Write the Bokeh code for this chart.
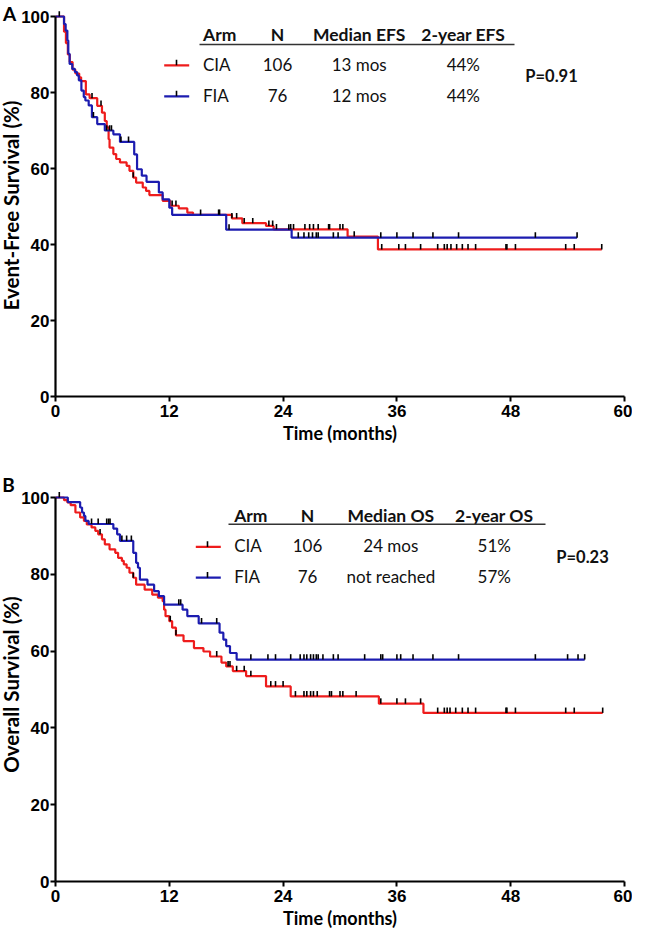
import numpy as np
from bokeh.plotting import figure
from bokeh.layouts import column
from bokeh.models import FixedTicker, ColumnDataSource
from bokeh.core.properties import value
from bokeh.embed import file_html
from bokeh.resources import INLINE

# ---------------- data ----------------
x_ticks = [0, 12, 24, 36, 48, 60]
y_ticks = [0, 20, 40, 60, 80, 100]

# Panel A: Event-free survival
efs_cia_t = [0, 0.9, 1.1, 1.3, 1.5, 1.8, 2.1, 2.5, 2.7, 3.2, 3.6, 4.4, 4.9, 5.2, 5.4, 5.6, 5.7,
             6.1, 6.4, 6.8, 7.5, 7.8, 8.2, 8.5, 9.2, 9.55, 9.9, 11.3, 12.1, 13.0, 13.9, 14.5,
             18.6, 19.7, 22.2, 23.0, 30.8, 34.0]
efs_cia_s = [100, 96, 93, 90, 88, 86, 85, 84, 83, 79.5, 78.5, 76.5, 74.7, 72.5, 70.8, 67.7, 65.5,
             63.8, 62.5, 61.6, 60.7, 59.4, 57.6, 56.3, 55.0, 54.1, 53.0, 51.5, 50.2, 49.5, 48.4, 47.8,
             46.9, 45.6, 44.9, 44.0, 42.1, 38.7]
efs_cia_end = 57.6
efs_cia_cens = [3.85, 4.8, 8.2, 12.3, 12.7, 15.3, 17.2, 18.6, 19.1, 19.9, 20.8, 22.5, 22.9, 23.3,
                24.8, 25.1, 26.3, 26.8, 27.2, 27.7, 28.8, 28.9, 30.0, 30.3, 31.5, 34.4, 36.2, 36.9,
                38.5, 40.3, 41.0, 41.3, 41.7, 42.3, 42.9, 43.5, 44.3, 47.5, 47.6, 48.5, 53.8, 54.7, 57.6]

efs_fia_t = [0, 0.9, 1.07, 1.25, 1.35, 1.49, 1.77, 2.04, 2.28, 2.46, 2.73, 2.98, 3.15, 3.5, 3.84,
             4.4, 5.2, 6.1, 6.8, 8.3, 8.6, 9.1, 9.6, 10.9, 11.3, 12.0, 12.3, 18.0, 24.9]
efs_fia_s = [100, 98, 96.3, 93.7, 90.2, 87.5, 86.2, 85.4, 84.5, 83.2, 80.5, 78.8, 77.9, 76.6, 73.5,
             71.7, 70.0, 69.0, 67.0, 63.7, 59.8, 58.1, 56.5, 53.7, 51.9, 49.7, 47.8, 43.9, 41.8]
efs_fia_end = 55.0
efs_fia_cens = [0.4, 4.0, 5.4, 5.7, 5.9, 6.9, 7.7, 17.3, 18.3, 24.6, 25.6, 26.2, 26.7, 27.1, 27.5,
                27.7, 29.3, 29.8, 34.3, 36.0, 37.7, 39.8, 42.5, 50.6, 55.0]

efs_header = ["Arm", "N", "Median EFS", "2-year EFS"]
efs_arms = ["CIA", "FIA"]
efs_n = ["106", "76"]
efs_median = ["13 mos", "12 mos"]
efs_2yr = ["44%", "44%"]
efs_p = "P=0.91"

# Panel B: Overall survival
os_cia_t = [0, 0.9, 1.25, 1.6, 2.1, 2.6, 3.0, 3.3, 3.8, 4.2, 4.5, 4.9, 5.2, 5.7, 6.3, 6.6, 7.0, 7.2,
            7.5, 7.8, 8.2, 8.5, 9.4, 10.2, 10.8, 11.3, 11.45, 11.6, 12.0, 12.3, 12.7, 13.5, 14.6,
            15.6, 16.3, 17.5, 18.0, 18.7, 20.1, 22.2, 24.8, 34.1, 38.8]
os_cia_s = [100, 99.3, 98.7, 98.0, 96.1, 94.8, 93.9, 93.0, 92.2, 91.3, 90.4, 89.1, 87.8, 86.5, 85.6,
            84.3, 83.5, 82.6, 81.7, 80.4, 79.1, 77.3, 76.0, 74.7, 73.9, 73.0, 70.8, 69.1, 67.8, 66.1,
            64.1, 62.6, 60.8, 59.9, 58.6, 57.0, 56.0, 54.8, 53.5, 50.8, 48.2, 46.3, 43.9]
os_cia_end = 57.7
os_cia_cens = [4.7, 8.2, 12.1, 12.7, 17.0, 18.2, 18.4, 19.1, 19.9, 20.6, 22.7, 23.2, 24.0, 25.3,
               26.2, 26.5, 26.9, 27.2, 27.6, 28.9, 29.1, 30.0, 30.3, 31.7, 34.3, 36.0, 36.9, 38.5,
               40.3, 41.0, 41.3, 41.6, 42.2, 42.9, 43.5, 44.3, 47.5, 47.6, 48.5, 53.8, 54.7, 57.7]

os_fia_t = [0, 1.3, 2.6, 2.8, 3.0, 3.15, 3.5, 6.1, 6.5, 6.8, 8.2, 8.5, 8.7, 8.9, 9.7, 10.4, 10.9,
            11.45, 13.4, 13.9, 15.1, 17.3, 17.7, 18.0, 18.4, 19.1]
os_fia_s = [100, 98.8, 97.4, 96.1, 95.2, 93.9, 93.1, 91.9, 90.4, 88.7, 85.6, 83.0, 81.7, 78.6, 77.3,
            75.6, 74.3, 72.1, 70.8, 69.1, 67.2, 64.8, 63.0, 61.3, 59.5, 57.8]
os_fia_end = 55.8
os_fia_cens = [0.4, 3.8, 4.5, 5.4, 5.6, 5.75, 7.0, 7.5, 8.0, 13.0, 13.2, 15.4, 17.0, 20.6, 22.4,
               23.2, 24.8, 25.8, 26.2, 26.5, 26.9, 27.2, 27.5, 27.7, 28.2, 29.3, 29.8, 32.6, 34.3,
               34.5, 36.0, 36.4, 37.7, 39.8, 42.5, 50.6, 54.0, 55.1, 55.8]

os_header = ["Arm", "N", "Median OS", "2-year OS"]
os_arms = ["CIA", "FIA"]
os_n = ["106", "76"]
os_median = ["24 mos", "not reached"]
os_2yr = ["51%", "57%"]
os_p = "P=0.23"

# ---------------- style ----------------
RED = "#ee1c1c"
BLUE = "#1c1cb0"
FONT = "Lato"
TICK_FONT = "Liberation Sans"
PAGE_LEFT = 8      # page x where figure starts
PAGE_RIGHT = 640   # page x where figure ends
AXIS_X = 63        # page x of the time-zero axis
AXIS_END = 632     # page x of time 60
PX_PER_X = (AXIS_END - AXIS_X) / 60.0


def step_value(ts, ss, c):
    idx = np.searchsorted(np.asarray(ts), np.asarray(c), side="right") - 1
    return np.asarray(ss)[idx]


def make_panel(curves, header, arms, ns, medians, twoyr, ptxt, letter, ylabel,
               fig_top, fig_bottom, zero_px, px_per_y, layout):
    def tx(px):
        return (px - AXIS_X) / PX_PER_X

    def ty(py):
        return (zero_px - py) / px_per_y

    p = figure(frame_width=PAGE_RIGHT - PAGE_LEFT, frame_height=fig_bottom - fig_top,
               x_range=(tx(PAGE_LEFT), tx(PAGE_RIGHT)), y_range=(ty(fig_bottom), ty(fig_top)),
               output_backend="svg", toolbar_location=None,
               min_border_left=0, min_border_right=0,
               min_border_top=0, min_border_bottom=0)
    p.outline_line_color = None
    p.xgrid.visible = False
    p.ygrid.visible = False
    p.background_fill_color = "white"
    p.border_fill_color = "white"

    for ax in (p.xaxis[0], p.yaxis[0]):
        ax.axis_line_width = 2.2
        ax.axis_line_color = "black"
        ax.major_tick_line_width = 2
        ax.major_tick_line_color = "black"
        ax.major_tick_out = 5
        ax.major_tick_in = 0
        ax.minor_tick_line_color = None
        ax.major_label_text_font = TICK_FONT
        ax.major_label_text_font_style = "bold"
        ax.major_label_text_font_size = "17px"
        ax.major_label_text_color = "black"
        ax.fixed_location = 0
    p.xaxis.ticker = FixedTicker(ticks=x_ticks)
    p.yaxis.ticker = FixedTicker(ticks=y_ticks)
    p.xaxis.bounds = (0, 60)
    p.yaxis.bounds = (0, 100)
    p.xaxis.major_label_standoff = 3
    p.yaxis.major_label_standoff = 1
    p.xaxis.axis_label = "Time (months)"
    p.xaxis.axis_label_text_font = FONT
    p.xaxis.axis_label_text_font_style = "bold"
    p.xaxis.axis_label_text_font_size = "18px"
    p.xaxis.axis_label_standoff = 2
    p.xaxis.axis_label_text_color = "black"

    # curves
    for ts, ss, end, cens, col in curves:
        xs = list(ts) + [end]
        ys = list(ss) + [ss[-1]]
        p.step(xs, ys, mode="after", line_color=col, line_width=2.2)
    for ts, ss, end, cens, col in curves:
        cy = step_value(ts, ss, cens)
        p.segment(x0=cens, x1=cens, y0=cy, y1=cy + 1.4, line_color="black", line_width=1.6)

    # legend table
    hx = [tx(layout["arm"]), tx(layout["n"]), tx(layout["med"]), tx(layout["yr"])]
    hy = ty(layout["hy"])
    r1 = ty(layout["r1"])
    r2 = ty(layout["r2"])
    p.text(x=[hx[0]], y=[hy], text=[header[0]], text_font=value(FONT), text_font_style="bold",
           text_font_size=value("17.5px"), text_align="left", text_baseline="middle",
           text_color="#111111")
    p.text(x=hx[1:], y=[hy] * 3, text=header[1:], text_font=value(FONT), text_font_style="bold",
           text_font_size=value("17.5px"), text_align="center", text_baseline="middle",
           text_color="#111111")
    p.segment(x0=[tx(layout["ul0"])], x1=[tx(layout["ul1"])], y0=[ty(layout["uy"])],
              y1=[ty(layout["uy"])], line_color="#333333", line_width=1.6)
    p.text(x=[hx[0], hx[0]], y=[r1, r2], text=arms, text_font=value(FONT),
           text_font_size=value("17px"), text_align="left", text_baseline="middle",
           text_color="#111111")
    body = ColumnDataSource(dict(
        x=[hx[1], hx[1], hx[2], hx[2], hx[3], hx[3]],
        y=[r1, r2, r1, r2, r1, r2],
        t=[ns[0], ns[1], medians[0], medians[1], twoyr[0], twoyr[1]]))
    p.text(x="x", y="y", text="t", source=body, text_font=value(FONT),
           text_font_size=value("17px"), text_align="center", text_baseline="middle",
           text_color="#111111")
    # legend samples
    for ry, col in ((r1, RED), (r2, BLUE)):
        p.segment(x0=[tx(layout["s0"])], x1=[tx(layout["s1"])], y0=[ry - 0.3], y1=[ry - 0.3],
                  line_color=col, line_width=2.2)
        p.segment(x0=[tx(layout["st"])], x1=[tx(layout["st"])], y0=[ry - 0.3], y1=[ry + 1.2],
                  line_color="black", line_width=1.6)
    p.text(x=[tx(layout["px"])], y=[ty(layout["py"])], text=[ptxt], text_font=value(FONT),
           text_font_style="bold", text_font_size=value("16.5px"), text_align="center",
           text_baseline="middle", text_color="#111111")

    # panel letter and y label
    p.text(x=[tx(layout["lx"])], y=[ty(layout["ly"])], text=[letter], text_font=value(FONT),
           text_font_style="bold", text_font_size=value("19px"), text_align="center",
           text_baseline="middle", text_color="black")
    p.text(x=[tx(layout["yx"])], y=[ty(layout["yl"])], text=[ylabel], angle=np.pi / 2,
           text_font=value(FONT), text_font_style="bold", text_font_size=value("20.5px"),
           text_align="center", text_baseline="middle", text_color="black")
    return p


layout_a = dict(arm=210.5, n=285, med=366.7, yr=470.8, hy=42, r1=71.7, r2=102.7,
                ul0=207, ul1=522, uy=52, s0=171.7, s1=196.7, st=184, px=559, py=83,
                lx=17, ly=21, yx=18, yl=213)
layout_b = dict(arm=241.7, n=315, med=398.3, yr=501.7, hy=522.7, r1=553.3, r2=584,
                ul0=236, ul1=553, uy=531.7, s0=203.3, s1=228.3, st=215, px=590, py=564,
                lx=16, ly=491.5, yx=18, yl=692)

pa = make_panel(
    [(efs_cia_t, efs_cia_s, efs_cia_end, efs_cia_cens, RED),
     (efs_fia_t, efs_fia_s, efs_fia_end, efs_fia_cens, BLUE)],
    efs_header, efs_arms, efs_n, efs_median, efs_2yr, efs_p, "A", "Event-Free Survival (%)",
    fig_top=8, fig_bottom=455, zero_px=404, px_per_y=3.8, layout=layout_a)

pb = make_panel(
    [(os_cia_t, os_cia_s, os_cia_end, os_cia_cens, RED),
     (os_fia_t, os_fia_s, os_fia_end, os_fia_cens, BLUE)],
    os_header, os_arms, os_n, os_median, os_2yr, os_p, "B", "Overall Survival (%)",
    fig_top=455, fig_bottom=936, zero_px=889, px_per_y=3.84, layout=layout_b)

page = column(pa, pb, spacing=0)
open("out.html", "w").write(file_html(page, INLINE))
